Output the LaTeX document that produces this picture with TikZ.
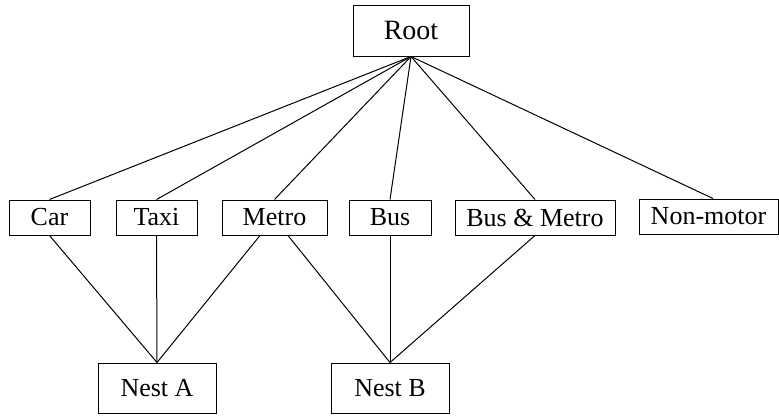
\documentclass[tikz,border=0pt]{standalone}
\usepackage{fontspec}
\setmainfont{Liberation Serif}
\usetikzlibrary{calc}

\begin{document}
\begin{tikzpicture} [x=1pt, y=-1pt, line width=1pt,
  box/.style={draw, inner sep=0, font=\fontsize{26}{30}\selectfont},
  mode/.style={box, minimum height=35},
  nest/.style={box, minimum width=118, minimum height=50}]
\useasboundingbox (0,0) rectangle (779,416);
\node[box, minimum width=116, minimum height=51, font=\fontsize{28}{32}\selectfont] (root) at (411,30.5) {Root};
\node[mode, minimum width=81]  (car)      at (49.5,217.5)  {Car};
\node[mode, minimum width=81]  (taxi)     at (156.5,217.5) {Taxi};
\node[mode, minimum width=105] (metro)    at (274.5,217.5) {Metro};
\node[mode, minimum width=82]  (bus)      at (390,217.5)   {Bus};
\node[mode, minimum width=160] (busmetro) at (535,217.5)   {Bus \& Metro};
\node[mode, minimum width=139] (nonmotor) at (708.5,216.5) {Non-motor};
\node[nest] (nestA) at (157,388) {Nest A};
\node[nest] (nestB) at (390,388) {Nest B};
% upper level
\foreach \m in {car, taxi, metro, bus, busmetro}
 \draw (root.south) -- (\m.north);
\draw (root.south) -- ([xshift=4.5]nonmotor.north);
% nests
\foreach \m in {car, taxi}
 \draw (\m.south) -- (nestA.north);
\draw ([xshift=-14.5]metro.south) -- (nestA.north);
\draw ([xshift=13.5]metro.south) -- (nestB.north);
\foreach \m in {bus, busmetro}
 \draw (\m.south) -- (nestB.north);
\end{tikzpicture}
\end{document}
